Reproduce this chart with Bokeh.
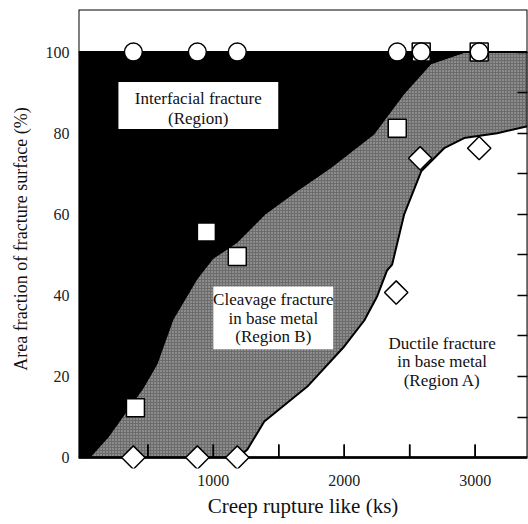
import numpy as np
from bokeh.plotting import figure
from bokeh.models import Range1d, LinearAxis, FixedTicker, BoxAnnotation, Label, Title
from bokeh.embed import file_html
from bokeh.resources import INLINE

# ---- data ----
X_MIN, X_MAX = -30, 3400
Y_MIN, Y_MAX = -2.7, 110.5
FULL = 100
TICK_MID = 1.6  # centre of the 13 px inward tick, in data units

circle_x = [389, 878, 1183, 2405, 2588, 3031]
circle_y = [100, 100, 100, 100, 100, 100]

square_x = [405, 947, 1183, 2405, 2588, 3031]
square_y = [12.3, 55.6, 49.6, 81.2, 100, 100]

diamond_x = [389, 878, 1183, 2397, 2580, 3031]
diamond_y = [0, 0, 0, 40.7, 73.8, 76.3]

# boundary interfacial / cleavage (black / grey)
upper_x = [61, 200, 466, 573, 695, 878, 1000, 1183, 1400, 1641, 1900, 2229, 2458, 2664, 2916, 3400]
upper_y = [0, 5, 17, 23, 34, 44, 49, 53, 60, 65.7, 71.4, 79.7, 89.6, 97, 99.8, 100]

# boundary cleavage / ductile (grey / white)
lower_x = [1190, 1260, 1389, 1718, 2000, 2153, 2252, 2328, 2366, 2458, 2588, 2763, 2916, 3168, 3400]
lower_y = [0, 2, 8.9, 17.5, 27.4, 33.8, 39.8, 46.2, 47.6, 60, 70.6, 76.3, 78.8, 80, 81.7]

x_major = [1000, 2000, 3000]
x_minor = [500, 1500, 2500]
y_ticks = [0, 20, 40, 60, 80, 100]
y_right_ticks = [10, 20, 30, 40, 50, 60, 70, 80, 90, 100]

FONT = "Liberation Serif"

p = figure(width=528, height=524,
           x_range=Range1d(X_MIN, X_MAX), y_range=Range1d(Y_MIN, Y_MAX),
           output_backend="svg", toolbar_location=None,
           min_border_left=78, min_border_right=1, min_border_top=9, min_border_bottom=56,
           y_axis_label="Area fraction of fracture surface (%)")
p.grid.visible = False
p.background_fill_color = "white"
p.border_fill_color = "white"
p.outline_line_color = None

# regions
p.quad(left=[X_MIN], right=[X_MAX], bottom=[0], top=[FULL],
       fill_color="black", line_color=None)

grey_x = upper_x + [X_MAX, X_MAX]
grey_y = upper_y + [0, 0]
p.patch(grey_x, grey_y, fill_color="#6c6c6c", line_color=None,
        hatch_pattern="dot", hatch_color="white", hatch_alpha=0.55, hatch_scale=3, hatch_weight=1)

white_x = lower_x + [X_MAX]
white_y = lower_y + [0]
p.patch(white_x, white_y, fill_color="white", line_color=None)
p.line(lower_x, lower_y, line_color="black", line_width=2)
p.line([X_MIN, X_MAX], [FULL, FULL], line_color="black", line_width=2)

# frame box and base line
p.quad(left=[X_MIN], right=[X_MAX], bottom=[0], top=[Y_MAX],
       fill_color=None, line_color="black", line_width=2)
p.line([X_MIN, X_MAX], [0, 0], line_color="black", line_width=2.5)

# inward tick marks on the zero line (13 px long)
tick_x = x_minor + x_major
p.ray(x=tick_x, y=[0] * len(tick_x), length=13, length_units="screen",
      angle=np.pi / 2, line_color="black", line_width=1.5)
p.scatter(tick_x, [TICK_MID] * len(tick_x), marker="dash", size=13, angle=np.pi / 2,
          line_color="black", line_width=1.5)

# boxes / labels
p.add_layout(BoxAnnotation(left=275, right=1496, bottom=81, top=92.6,
                           fill_color="white", fill_alpha=1, line_color=None))
p.add_layout(BoxAnnotation(left=1000, right=1916, bottom=26.7, top=42.2,
                           fill_color="white", fill_alpha=1, line_color=None))

def lab(x, y, t, size="17px"):
    p.add_layout(Label(x=x, y=y, text=t, text_font=FONT, text_font_size=size,
                       text_align="center", text_baseline="middle", text_color="#111111"))

lab(885, 88.6, "Interfacial fracture")
lab(885, 83.6, "(Region)")
lab(1458, 38.9, "Cleavage fracture")
lab(1458, 34.2, "in base metal")
lab(1458, 29.8, "(Region B)")
lab(2748, 28.2, "Ductile fracture")
lab(2748, 23.6, "in base metal")
lab(2748, 18.9, "(Region A)")

# markers
p.scatter(diamond_x, diamond_y, marker="square", angle=np.pi / 4, size=16.5,
          fill_color="white", line_color="black", line_width=1.5)
p.scatter(square_x, square_y, marker="square", size=18,
          fill_color="white", line_color="black", line_width=1.5)
p.scatter(circle_x, circle_y, marker="circle", size=18,
          fill_color="white", line_color="black", line_width=1.5)

# x axis: labels only (at frame bottom)
xa = p.xaxis[0]
xa.ticker = FixedTicker(ticks=x_major)
xa.major_tick_in = 0
xa.major_tick_out = 0
xa.minor_tick_in = 0
xa.minor_tick_out = 0
xa.axis_line_color = None
xa.major_label_standoff = 6

ya = p.yaxis[0]
ya.ticker = FixedTicker(ticks=y_ticks)
ya.major_tick_in = 0
ya.major_tick_out = 0
ya.minor_tick_in = 0
ya.minor_tick_out = 0
ya.axis_line_color = None
ya.major_label_standoff = 9
ya.axis_label_standoff = 12

for ax in (xa, ya):
    ax.major_label_text_font = FONT
    ax.major_label_text_font_size = "16px"
    ax.major_label_text_color = "#222222"
    ax.axis_label_text_font = FONT
    ax.axis_label_text_font_style = "normal"
    ax.axis_label_text_color = "#111111"
ya.axis_label_text_font_size = "18px"

# x axis title
p.add_layout(Title(text="Creep rupture like (ks)", align="center",
                   text_font=FONT, text_font_size="21px", text_font_style="normal",
                   text_color="#111111", standoff=6), "below")

ra = LinearAxis(ticker=FixedTicker(ticks=[], minor_ticks=y_right_ticks),
                major_tick_in=0, major_tick_out=0,
                minor_tick_in=10, minor_tick_out=0, minor_tick_line_width=1.5,
                axis_line_color=None)
p.add_layout(ra, "right")

open("out.html", "w").write(file_html(p, INLINE))
